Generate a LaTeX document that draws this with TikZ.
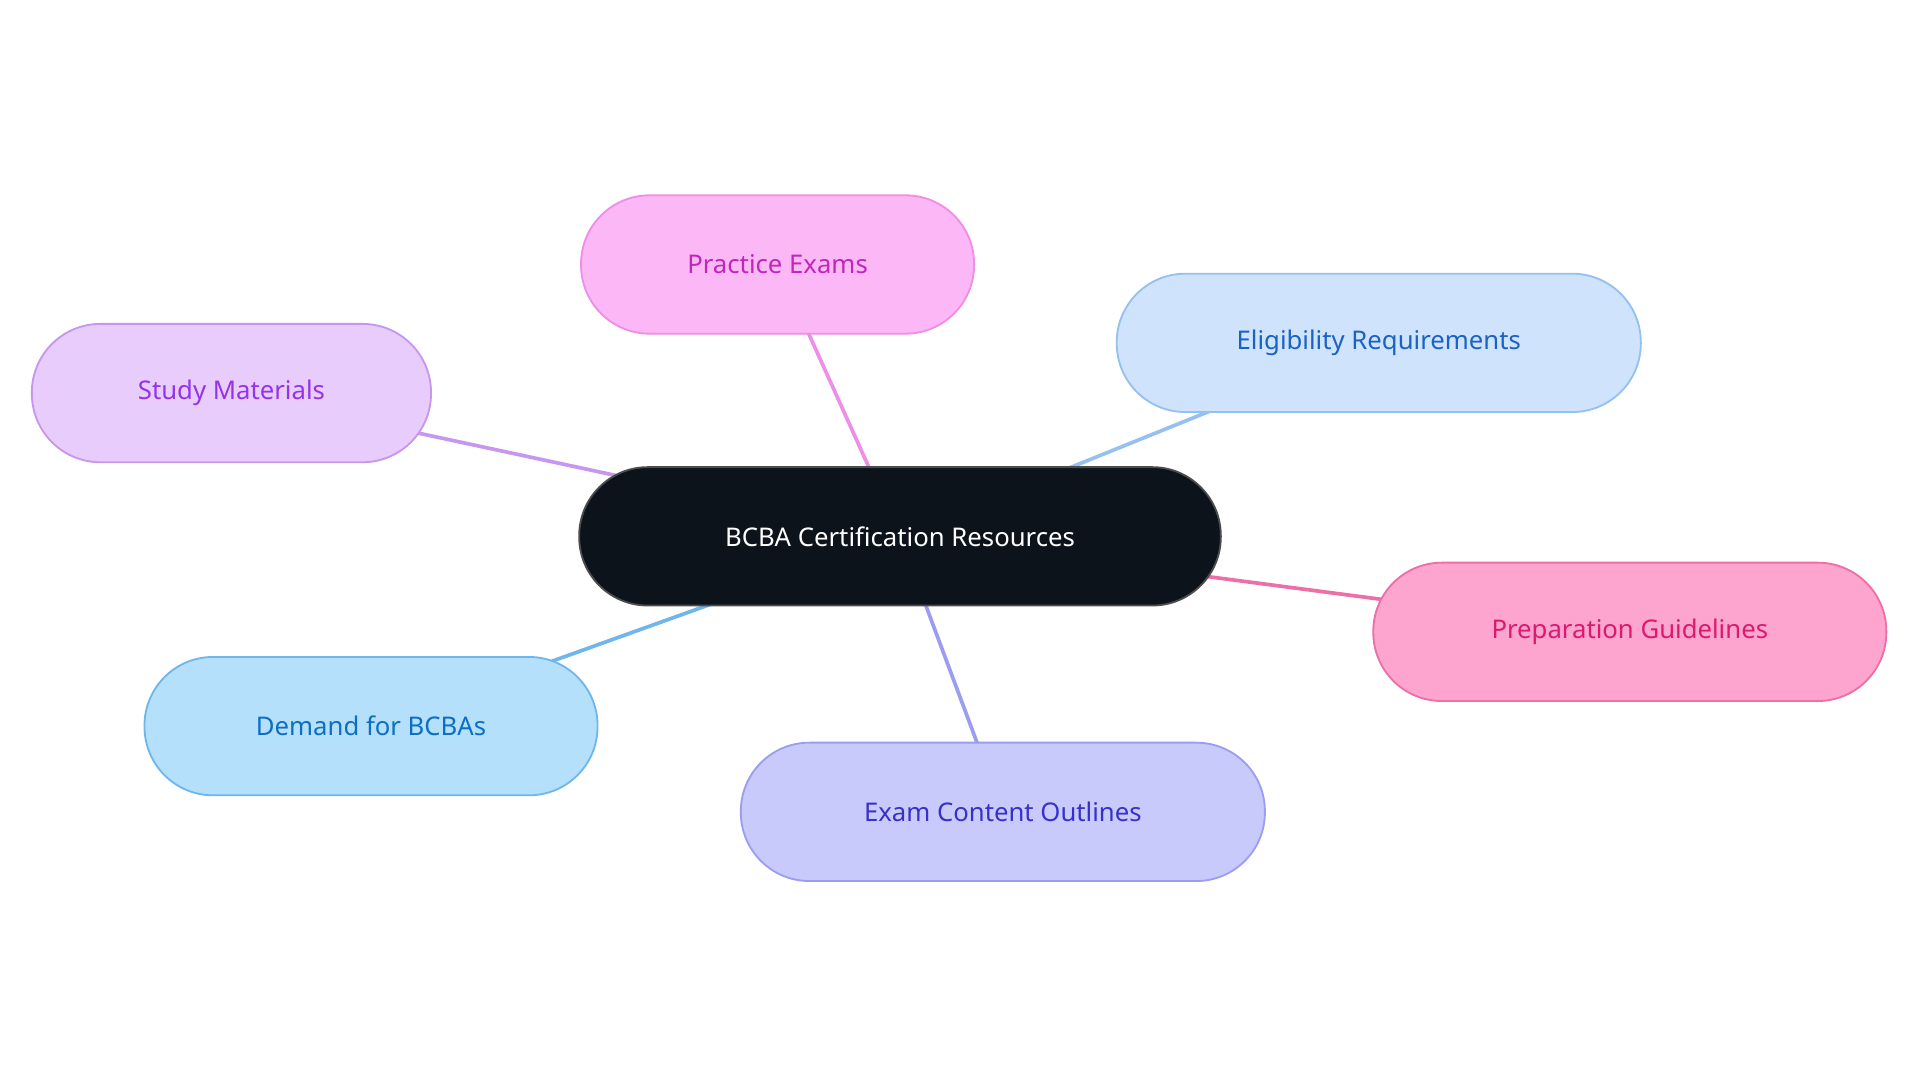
\documentclass[tikz,border=0pt]{standalone}
\usepackage{fontspec}
\setmainfont{Noto Sans}
\definecolor{cfill}{HTML}{0D131B}
\definecolor{pf}{HTML}{FCB8F6}\definecolor{pb}{HTML}{EE8EE6}\definecolor{pt}{HTML}{C026B8}
\definecolor{ef}{HTML}{CFE3FC}\definecolor{eb}{HTML}{96C0EF}\definecolor{et}{HTML}{1A63C4}
\definecolor{sf}{HTML}{E8CCFC}\definecolor{sb}{HTML}{C797EF}\definecolor{st}{HTML}{9333EA}
\definecolor{rf}{HTML}{FDA4CF}\definecolor{rb}{HTML}{EC6FA8}\definecolor{rt}{HTML}{DB1A6D}
\definecolor{df}{HTML}{B5E0FC}\definecolor{db}{HTML}{6FB6EC}\definecolor{dt}{HTML}{0C6FC2}
\definecolor{xf}{HTML}{C9CAFC}\definecolor{xb}{HTML}{9B9DEF}\definecolor{xt}{HTML}{3730C9}
\begin{document}
\begin{tikzpicture}[x=1pt,y=-1pt,
  pill/.style={rounded corners=56pt,minimum height=113pt,line width=1.5pt,font=\fontsize{21}{25}\selectfont,inner sep=0pt},
  conn/.style={line width=3pt}]
\useasboundingbox (0,0) rectangle (1568,884);
\fill[white] (0,0) rectangle (1568,884);
\coordinate (c0) at (735,438);
\draw[conn,pb] (c0) -- (635,216) coordinate (cp);
\draw[conn,eb] (c0) -- (1126,280);
\draw[conn,sb] (c0) -- (189,321);
\draw[conn,rb] (c0) -- (1331,516);
\draw[conn,db] (c0) -- (303,593);
\draw[conn,xb] (c0) -- (819,663);
\node[pill,fill=cfill,draw=black!70,text=white,minimum width=524pt] (c) at (735,438) {BCBA Certification Resources};
\node[pill,fill=pf,draw=pb,text=pt,minimum width=321pt] (p) at (635,216) {Practice Exams};
\node[pill,fill=ef,draw=eb,text=et,minimum width=428pt] (e) at (1126,280) {Eligibility Requirements};
\node[pill,fill=sf,draw=sb,text=st,minimum width=326pt] (s) at (189,321) {Study Materials};
\node[pill,fill=rf,draw=rb,text=rt,minimum width=419pt] (r) at (1331,516) {Preparation Guidelines};
\node[pill,fill=df,draw=db,text=dt,minimum width=370pt] (d) at (303,593) {Demand for BCBAs};
\node[pill,fill=xf,draw=xb,text=xt,minimum width=428pt] (x) at (819,663) {Exam Content Outlines};
\end{tikzpicture}
\end{document}
